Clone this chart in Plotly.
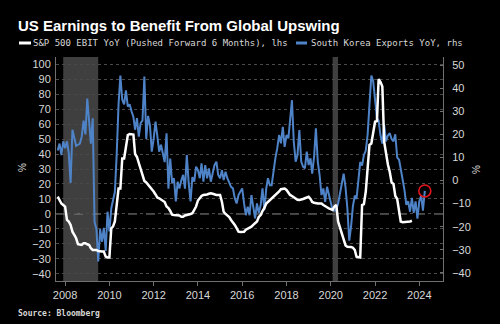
import pandas as pd
import plotly.graph_objects as go

# Monthly observations, both series start in September 2007
first_month = "2007-09-01"

# S&P 500 EBIT YoY (%), pushed forward 6 months -- left axis
sp500_ebit_yoy = [
    11.6, 9.3, 7, 6, 4.9, -4, -5, -7.3, -11.8, -14, -16.2, -20.2, -20.7, -20.7, -19.5, -19.5,
    -20.2, -20.7, -22.9, -24, -24, -24, -24.7, -25, -25, -25, -28.4, -29, -29, -9.5, -8.4, -5,
    5, 17, 17, 37, 37, 45, 52.7, 53.3, 53.3, 53, 40, 38, 34, 30, 27, 22,
    21, 19.5, 18.5, 17, 15, 13, 11, 10.5, 9.5, 9, 8, 5, 4, 2, -0.5, -0.7,
    -0.7, -0.7, -1, -1.8, -1.8, -1, -0.7, -0.7, 0, 0.5, 3, 5, 9, 11, 12, 12.7,
    12.7, 13, 13.5, 13.8, 13.5, 13, 12.7, 12.7, 12.7, 8, 1.5, 0, -0.7, -2, -4, -5.5,
    -7.3, -9.5, -11.8, -12, -12, -11.8, -10.5, -10, -9.5, -8.5, -7.3, -6, -5, -2, -0.7, 2,
    4, 7, 8, 9, 10.5, 11.5, 12.5, 13.8, 15, 16.5, 17, 17, 16, 14, 12.7, 12,
    11, 10.5, 9.5, 9.3, 9.5, 10, 10.5, 11, 11.5, 10, 8, 7.5, 7, 7, 7, 7,
    6, 5, 4.5, 3.8, 3, 2.7, 5, 6, -5, -9.5, -12, -18, -21, -21.8, -21.8, -22,
    -22.5, -24, -28.5, -29, -29, 6, 6.5, 15, 30, 46, 47, 55, 61.5, 62, 90, 88,
    85, 48, 40, 33, 28, 21, 20, 12, 10, 3, -5, -5.5, -5.5, -5.5, -5.5, -5,
    -4.5,
]

# South Korea exports YoY (%) -- right axis
korea_exports_yoy = [
    13, 16, 11, 17, 14, 17, 12, -1, 22, 18, 15, 15.5, 16, 19, 26, 20,
    35.5, 25.5, 16, 27, -18, -21, -35, -21, -26.5, -20.5, -30.5, -13.5, -22, -12, -9, -5,
    11, 33, 45.5, 35, 33, 39, 32, 33, 30, 27.5, 22, 27, 19, 25, 26, 45,
    18, 28, 24, 12.5, 18, 25.5, 19.5, 12.5, 15.5, 11, 8, 20.5, -3.5, 9.5, -1, 1,
    -9, -0.5, -3.5, 0, 2.5, -3.5, 11, -1, -9, 1.5, -0.5, 6, 4.5, 1, 7.4, -0.5,
    6.7, 1, 5.3, -0.5, 3.8, 6.7, 8.2, 2.4, 1, 4.5, 0.2, 3.8, 1, -1.2, -2.7, -3.4,
    -7.7, -9.9, -6.3, -4.8, -3.4, -9.9, -15, -11.3, -15, -6.3, -12, -16.4, -9.9, -14, -10.6, -3.4,
    -12.8, -3.4, 1, -2, -2, 5.3, 9.6, 13.9, 19.7, 16.1, 23.3, 14.6, 19.7, 18.3, 25.5, 34.8,
    16.8, 8.2, 11, 21.9, 8.2, 6, 5.3, 12.5, 6.7, 9.6, 3, 10.3, 22.6, 8.2, 2.4, -6.3,
    -3.4, -9.2, -2.7, -6.3, -9.2, -12.8, -13, -12.5, -10, -6, -2, 3, -3, -12, -26, -20,
    -11, -6.5, -8, 2, 8, 6.5, 11, 13, 20, 33, 45.5, 43, 36, 27, 26, 19.5,
    16, 24, 17, 19.5, 20.5, 18, 17, 20, 10, 9, 5, 1, -4, -10.5, -9, -13.5,
    -7.5, -14, -9, -16.5, -9, -6.5, -13, -4.5,
]

# US recession periods (shaded)
recession_starts = ["2007-12-01", "2020-02-01"]
recession_ends = ["2009-06-30", "2020-04-30"]

x_tick_years = [2008, 2010, 2012, 2014, 2016, 2018, 2020, 2022, 2024]
left_ticks = [-40, -30, -20, -10, 0, 10, 20, 30, 40, 50, 60, 70, 80, 90, 100]
right_ticks = [-40, -30, -20, -10, 0, 10, 20, 30, 40, 50]

title_text = "US Earnings to Benefit From Global Upswing"
ebit_name = "S&P 500 EBIT YoY (Pushed Forward 6 Months), lhs"
exports_name = "South Korea Exports YoY, rhs"
source_text = "Source: Bloomberg"

WHITE = "#ffffff"
BLUE = "#4f83c8"
AXIS = "#707070"
GRID = "#4a4a4a"
LABEL = "#d8d8d8"
TICK_FONT = dict(family="Liberation Sans, Arial, sans-serif", size=11, color=LABEL)
MONO = "DejaVu Sans Mono, monospace"

ebit_months = pd.date_range(first_month, periods=len(sp500_ebit_yoy), freq="MS")
export_months = pd.date_range(first_month, periods=len(korea_exports_yoy), freq="MS")

fig = go.Figure()

# Blue exports line sits on the right axis (main y); white EBIT line is the overlay so it draws on top
fig.add_trace(go.Scatter(
    x=export_months, y=korea_exports_yoy, mode="lines", name=exports_name,
    line=dict(color=BLUE, width=2), yaxis="y",
))
fig.add_trace(go.Scatter(
    x=[export_months[-1]], y=[korea_exports_yoy[-1]], mode="markers", showlegend=False,
    marker=dict(symbol="circle-open", size=12, color="#e4141b", line=dict(width=1.6)),
    yaxis="y",
))
fig.add_trace(go.Scatter(
    x=ebit_months, y=sp500_ebit_yoy, mode="lines", name=ebit_name,
    line=dict(color=WHITE, width=2.5), yaxis="y2",
))

for start, end in zip(recession_starts, recession_ends):
    fig.add_shape(type="rect", xref="x", yref="paper", x0=start, x1=end, y0=0, y1=1,
                  fillcolor="#3f3f3f", line_width=0, layer="below")

# Dashed zero line on the left scale
fig.add_shape(type="line", xref="paper", yref="y2", x0=0, x1=1, y0=0, y1=0,
              line=dict(color="#8a8a8a", width=1, dash="dash"), layer="between")

# Plot area: x 56..443 px, y 57..281 px
L, R, T, B = 56, 443, 57, 281
W, H = R - L, B - T


def px(x):
    return (x - L) / W


def py(y):
    return (B - y) / H


# Legend drawn as short line swatches with monospaced labels
for x0, x1, color in [(19, 31, WHITE), (296, 307, BLUE)]:
    fig.add_shape(type="line", xref="paper", yref="paper", x0=px(x0), x1=px(x1),
                  y0=py(43), y1=py(43), line=dict(color=color, width=3))

annotations = [
    dict(text=f"<b>{title_text}</b>", x=px(16), y=py(25.5), xanchor="left", yanchor="middle",
         font=dict(family="Liberation Sans, Arial, sans-serif", size=15, color=WHITE)),
    dict(text=ebit_name, x=px(31), y=py(43.5), xanchor="left", yanchor="middle",
         font=dict(family=MONO, size=9, color=LABEL)),
    dict(text=exports_name, x=px(309), y=py(43.5), xanchor="left", yanchor="middle",
         font=dict(family=MONO, size=9, color=LABEL)),
    dict(text=f"<b>{source_text}</b>", x=px(16), y=py(313), xanchor="left", yanchor="middle",
         font=dict(family=MONO, size=8, color=LABEL)),
    dict(text="%", x=px(22), y=py(168), xanchor="center", yanchor="middle", textangle=-90,
         font=dict(family="Liberation Sans, Arial, sans-serif", size=10, color=LABEL)),
    dict(text="%", x=px(476), y=py(170), xanchor="center", yanchor="middle", textangle=-90,
         font=dict(family="Liberation Sans, Arial, sans-serif", size=10, color=LABEL)),
]
for a in annotations:
    a.update(xref="paper", yref="paper", showarrow=False)

fig.update_layout(
    width=500, height=324,
    margin=dict(l=L, r=500 - R, t=T, b=324 - B),
    paper_bgcolor="black", plot_bgcolor="black",
    showlegend=False,
    annotations=annotations,
    xaxis=dict(
        type="date", range=["2007-08-04", "2025-01-26"],
        tickvals=[f"{y}-01-01" for y in x_tick_years], ticktext=[str(y) for y in x_tick_years],
        ticks="outside", ticklen=4, tickcolor=AXIS, showline=True, linecolor=AXIS, linewidth=1,
        showgrid=False, zeroline=False, tickfont=TICK_FONT,
    ),
    yaxis=dict(
        side="right", range=[-43.5, 53.5], tickvals=right_ticks,
        showgrid=False, zeroline=False, showline=True, linecolor=AXIS, linewidth=1,
        ticks="inside", ticklen=3, tickcolor=AXIS, ticklabelstandoff=6, tickfont=TICK_FONT,
    ),
    yaxis2=dict(
        side="left", overlaying="y", range=[-44.7, 104.7], tickvals=left_ticks,
        showgrid=True, gridcolor=GRID, griddash="dot", gridwidth=1,
        zeroline=False, showline=True, linecolor=AXIS, linewidth=1,
        ticks="", tickfont=TICK_FONT, ticklabelstandoff=2,
    ),
)

fig.write_html("out.html")
